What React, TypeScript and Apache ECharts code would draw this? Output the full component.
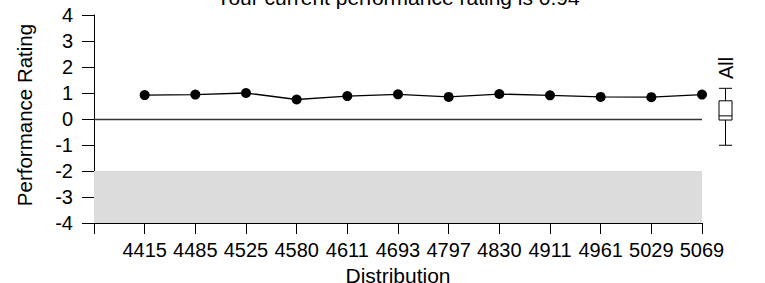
import React, { useEffect, useRef } from "react";
import * as echarts from "echarts";

const categories = ["4415", "4485", "4525", "4580", "4611", "4693", "4797", "4830", "4911", "4961", "5029", "5069"];
const ratings = [0.92, 0.94, 1.0, 0.75, 0.88, 0.95, 0.85, 0.96, 0.91, 0.85, 0.84, 0.94];
const allBox = [-1.01, -0.04, 0.12, 0.7, 1.18];
const boxLabel = "All";
const bandRange = [-2, -4];
const yTicks = [-4, 4, 1];
const titleText = "Your current performance rating is 0.94";

const FONT = "'Liberation Sans', Arial, sans-serif";

export default function App() {
  const ref = useRef<HTMLDivElement>(null);
  useEffect(() => {
    if (!ref.current) return;
    const chart = echarts.init(ref.current, null, { renderer: "svg" });
    const pts = ratings.map((v, i) => [i + 1, v]);
    chart.setOption({
      animation: false,
      textStyle: { fontFamily: FONT, color: "#000" },
      title: {
        text: titleText,
        left: 398,
        textAlign: "center",
        top: -13,
        padding: 0,
        textStyle: { fontFamily: FONT, fontSize: 21, fontWeight: "normal", color: "#000", lineHeight: 20 },
      },
      grid: [
        { left: 94, right: 63, top: 15, bottom: 60, outerBoundsMode: "none", containLabel: false },
        { left: 715, width: 21, top: 15, bottom: 60, outerBoundsMode: "none", containLabel: false },
      ],
      xAxis: [
        {
          type: "value",
          gridIndex: 0,
          min: 0,
          max: categories.length,
          interval: 1,
          name: "Distribution",
          nameLocation: "middle",
          nameGap: 39,
          nameTextStyle: { fontFamily: FONT, fontSize: 21, color: "#000", lineHeight: 16 },
          axisLine: { show: true, onZero: false, lineStyle: { color: "#000", width: 1 } },
          axisTick: { show: true, length: 11, lineStyle: { color: "#000", width: 1 } },
          axisLabel: {
            fontFamily: FONT,
            fontSize: 20,
            color: "#000",
            margin: 17,
            hideOverlap: false,
            formatter: (v: number) => (v >= 1 && v <= categories.length ? categories[v - 1] : ""),
          },
          splitLine: { show: false },
        },
        {
          type: "category",
          gridIndex: 1,
          data: [boxLabel],
          show: false,
        },
      ],
      yAxis: [
        {
          type: "value",
          gridIndex: 0,
          min: yTicks[0],
          max: yTicks[1],
          interval: yTicks[2],
          name: "Performance Rating",
          nameLocation: "middle",
          nameGap: 59,
          nameTextStyle: { fontFamily: FONT, fontSize: 20.5, color: "#000", padding: [0, 0, 0, 8] },
          axisLine: { show: true, lineStyle: { color: "#000", width: 1 } },
          axisTick: { show: true, length: 12, lineStyle: { color: "#000", width: 1 } },
          axisLabel: { fontFamily: FONT, fontSize: 20, color: "#000", margin: 21 },
          splitLine: { show: false },
        },
        {
          type: "value",
          gridIndex: 1,
          min: yTicks[0],
          max: yTicks[1],
          show: false,
          splitLine: { show: false },
        },
      ],
      graphic: [
        {
          type: "text",
          x: 726,
          y: 68,
          rotation: Math.PI / 2,
          style: {
            text: boxLabel,
            fontFamily: FONT,
            fontSize: 20,
            fill: "#000",
            textAlign: "center",
            textVerticalAlign: "middle",
          },
        },
      ],
      series: [
        {
          type: "line",
          xAxisIndex: 0,
          yAxisIndex: 0,
          data: pts,
          symbol: "circle",
          symbolSize: 10,
          itemStyle: { color: "#000" },
          lineStyle: { color: "#000", width: 1.3 },
          z: 5,
          markArea: {
            silent: true,
            itemStyle: { color: "#dcdcdc" },
            data: [[{ yAxis: bandRange[0] }, { yAxis: bandRange[1] }]],
          },
          markLine: {
            silent: true,
            symbol: "none",
            label: { show: false },
            lineStyle: { color: "#333", width: 1.3, type: "solid" },
            data: [{ yAxis: 0 }],
          },
        },
        {
          type: "boxplot",
          xAxisIndex: 1,
          yAxisIndex: 1,
          data: [allBox],
          boxWidth: [13, 13],
          itemStyle: { color: "#fff", borderColor: "#000", borderWidth: 1 },
        },
      ],
    });
    return () => chart.dispose();
  }, []);
  return <div ref={ref} style={{ position: "absolute", left: 0, top: 0, width: 765, height: 283 }} />;
}
